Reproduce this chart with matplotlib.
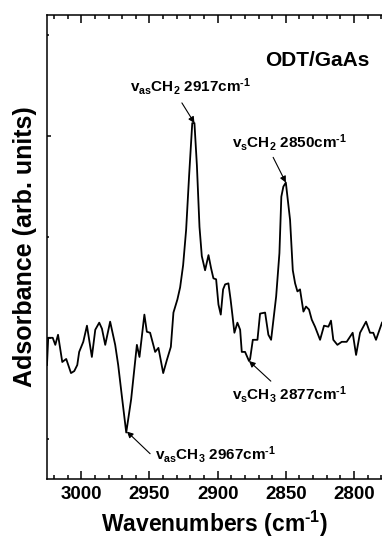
import numpy as np
import matplotlib
matplotlib.use("Agg")
import matplotlib.pyplot as plt
from matplotlib.ticker import MultipleLocator

plt.rcParams['font.family'] = 'Liberation Sans'
plt.rcParams['font.weight'] = 'bold'
plt.rcParams['mathtext.fontset'] = 'custom'
plt.rcParams['mathtext.rm'] = 'Liberation Sans:bold'
plt.rcParams['mathtext.it'] = 'Liberation Sans:bold'
plt.rcParams['mathtext.bf'] = 'Liberation Sans:bold'

# spectrum (wavenumber, absorbance in arb. units)
wavenumber = [3025.1, 3024.2, 3020.9, 3019.0, 3017.0, 3013.9, 3011.0, 3007.5, 3005.1, 3002.9,
              3001.5, 2998.5, 2995.8, 2992.2, 2989.7, 2986.8, 2984.8, 2982.4, 2978.8, 2975.1,
              2972.9, 2970.2, 2967.0, 2963.4, 2959.2, 2957.3, 2953.7, 2951.9, 2949.5, 2945.8,
              2943.4, 2939.9, 2937.2, 2934.3, 2932.4, 2929.5, 2927.5, 2925.3, 2923.1, 2920.9,
              2918.6, 2917.0, 2915.2, 2913.3, 2911.6, 2909.2, 2906.7, 2904.8, 2903.1, 2901.1,
              2899.4, 2897.7, 2896.0, 2894.5, 2892.1, 2890.5, 2889.2, 2887.7, 2885.5, 2883.5,
              2882.3, 2879.9, 2877.0, 2876.2, 2874.2, 2870.8, 2868.9, 2865.2, 2862.8, 2860.8,
              2857.1, 2854.7, 2853.3, 2851.8, 2850.0, 2846.9, 2844.9, 2843.2, 2841.5, 2839.6,
              2837.1, 2835.2, 2833.0, 2831.0, 2828.6, 2824.9, 2822.0, 2818.8, 2816.9, 2815.2,
              2812.2, 2809.0, 2805.4, 2801.0, 2798.5, 2795.6, 2791.2, 2788.3, 2785.9, 2783.9,
              2779.5]
absorbance = [-0.27, 0.00, 0.00, -0.07, 0.03, -0.24, -0.21, -0.35, -0.33, -0.27,
              -0.14, -0.04, 0.12, -0.19, 0.08, 0.15, 0.09, -0.07, 0.16, -0.07,
              -0.27, -0.58, -0.94, -0.61, -0.07, -0.19, 0.23, 0.06, 0.05, -0.14,
              -0.10, -0.35, -0.22, -0.09, 0.25, 0.38, 0.50, 0.72, 1.07, 1.61,
              2.13, 2.13, 1.71, 1.10, 0.81, 0.67, 0.82, 0.69, 0.59, 0.58,
              0.33, 0.23, 0.48, 0.53, 0.54, 0.38, 0.23, 0.05, 0.15, 0.08,
              -0.14, -0.14, -0.23, -0.21, -0.02, -0.02, 0.24, 0.25, 0.03, -0.02,
              0.41, 0.84, 1.40, 1.50, 1.54, 1.17, 0.67, 0.54, 0.46, 0.48,
              0.26, 0.31, 0.28, 0.18, 0.11, -0.02, 0.12, 0.11, 0.17, -0.02,
              -0.07, -0.04, -0.04, 0.05, -0.17, 0.05, 0.16, 0.05, 0.05, -0.02,
              0.15]

# peak labels: text, peak position, arrow tail, text anchor
labels = ['v$_{as}$CH$_2$ 2917cm$^{\u20101}$',
          'v$_s$CH$_2$ 2850cm$^{\u20101}$',
          'v$_s$CH$_3$ 2877cm$^{\u20101}$',
          'v$_{as}$CH$_3$ 2967cm$^{\u20101}$']
peaks = [(2917.0, 2.13), (2850.0, 1.54), (2877.0, -0.23), (2966.5, -0.93)]
tails = [(2926.2, 2.33), (2859.3, 1.79), (2861.0, -0.43), (2949.5, -1.15)]
text_pos = [(2964.1, 2.44), (2889.4, 1.89), (2889.4, -0.61), (2945.8, -1.21)]

fig = plt.figure(figsize=(3.82, 5.43), dpi=100)
ax = fig.add_axes([0.123, 0.118, 0.877, 0.854])

ax.plot(wavenumber, absorbance, color='black', lw=1.3)

ax.set_xlim(3025.1, 2779.5)
ax.set_ylim(-1.40, 3.20)

ax.xaxis.set_major_locator(MultipleLocator(50))
ax.xaxis.set_minor_locator(MultipleLocator(10))
ax.yaxis.set_major_locator(MultipleLocator(2))
ax.yaxis.set_minor_locator(MultipleLocator(1))
ax.set_yticklabels([])
ax.tick_params(axis='x', which='major', direction='in', top=True, length=5.5, width=1.1,
               labelsize=13.5, pad=5)
ax.tick_params(axis='x', which='minor', direction='in', top=True, length=2.8, width=1.1)
ax.tick_params(axis='y', which='major', direction='in', right=False, length=3, width=1.1)
ax.tick_params(axis='y', which='minor', direction='in', right=False, length=1.5, width=1.1)
for lbl in ax.get_xticklabels():
    lbl.set_fontweight('bold')

ax.spines['right'].set_visible(False)
for s in ['left', 'top', 'bottom']:
    ax.spines[s].set_linewidth(1.1)

ax.set_xlabel('Wavenumbers (cm$^{\u20101}$)', fontsize=16.5, fontweight='bold', labelpad=4)
ax.set_ylabel('Adsorbance (arb. units)', fontsize=18, fontweight='bold', labelpad=4)

ax.text(2788.3, 2.70, 'ODT/GaAs', fontsize=15, fontweight='bold', ha='right', va='baseline')

for txt, pk, tl, tp in zip(labels, peaks, tails, text_pos):
    ax.annotate('', xy=pk, xytext=tl,
                arrowprops=dict(arrowstyle='-|>', color='black', lw=0.8,
                                mutation_scale=9, shrinkA=0, shrinkB=0))
    ax.text(tp[0], tp[1], txt, fontsize=11, fontweight='bold', ha='left', va='baseline')

fig.savefig('out.png', dpi=100)
